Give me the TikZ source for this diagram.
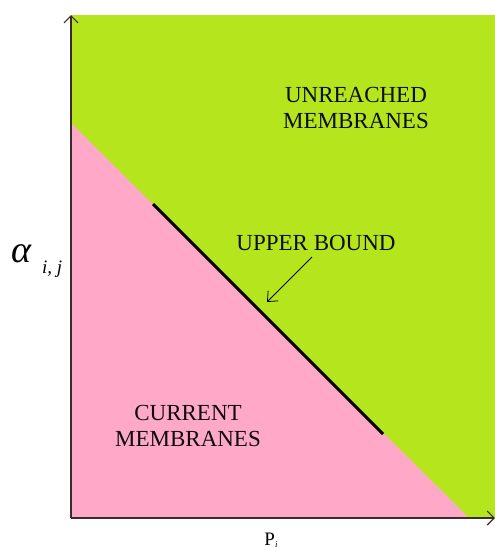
\documentclass[tikz,border=0pt]{standalone}
\usepackage{fontspec}
\setmainfont{Liberation Serif}
\usetikzlibrary{arrows.meta}
\definecolor{lime}{HTML}{B5E61D}
\definecolor{pinkr}{HTML}{FFA8C8}
\definecolor{axisc}{HTML}{3A2C2C}
\tikzset{
  lbl/.style={font=\fontsize{23}{26}\selectfont, align=center, text=black!95, inner sep=0pt},
  axisline/.style={draw=axisc, line width=1.2pt, -{Straight Barb[length=7pt,width=14pt]}},
}
\begin{document}
\begin{tikzpicture}[x=1pt,y=-1pt]
\useasboundingbox (0,0) rectangle (495,550);
% regions
\fill[lime] (71,15) rectangle (495,518);
\fill[pinkr] (71,123) -- (469,518) -- (71,518) -- cycle;
% axes
\coordinate (O) at (71,518);
\coordinate (ytop) at (71,15);
\coordinate (xend) at (495,518);
\draw[axisline] (O) -- (ytop);
\draw[axisline] (O) -- (xend);
% upper bound line
\coordinate (ub1) at (153,204);
\coordinate (ub2) at (383,434);
\draw[line width=3pt, black] (ub1) -- (ub2);
% labels
\node[lbl] (unr) at (356,108) {UNREACHED\\MEMBRANES};
\node[lbl] (cur) at (188,426) {CURRENT\\MEMBRANES};
\node[lbl, anchor=base] (upb) at (316,250) {UPPER BOUND};
\coordinate (atip) at (267,302);
\draw[line width=0.8pt, -{Straight Barb[length=8pt,width=14pt]}] (312,257) -- (atip);
\node[anchor=base west, inner sep=0pt, font=\fontsize{38}{38}\selectfont\itshape] (alpha) at (11,262) {α};
\node[anchor=base west, inner sep=0pt, font=\fontsize{19}{19}\selectfont\itshape] (sub) at (42,273) {i, j};
\node[anchor=base, inner sep=0pt, font=\fontsize{19}{19}\selectfont] (P) at (271,545) {P\raisebox{-2pt}{\fontsize{9}{9}\selectfont\itshape i}};
\end{tikzpicture}
\end{document}
